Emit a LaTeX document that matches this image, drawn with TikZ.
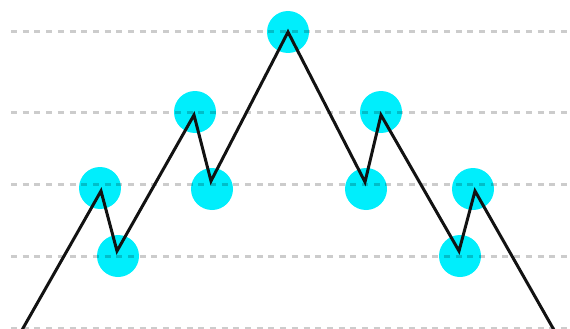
\documentclass[tikz,border=0pt]{standalone}
\begin{document}
\begin{tikzpicture}[x=1pt,y=-1pt,
  grid/.style={draw=black,draw opacity=0.2,line width=3pt,dash pattern=on 6pt off 5.7pt},
  dot/.style={circle,fill=cyanc,draw=none,minimum size=42pt,inner sep=0pt},
  path/.style={draw=black!93,line width=3pt,line join=miter}]
\definecolor{cyanc}{HTML}{00EEFC}
\useasboundingbox (0,0) rectangle (570,329);
\node[dot] (c1) at (100,188) {};
\node[dot] (c2) at (118,256) {};
\node[dot] (c3) at (195,112) {};
\node[dot] (c4) at (212,189) {};
\node[dot] (c5) at (288,32) {};
\node[dot] (c6) at (366,189) {};
\node[dot] (c7) at (381,112) {};
\node[dot] (c8) at (460,256) {};
\node[dot] (c9) at (473,189) {};
\foreach \y in {32,112,184,256,328}
  \draw[grid] (11,\y) -- (570,\y);
\coordinate (p0) at (22,330);
\coordinate (p1) at (101,191);
\coordinate (p2) at (117,251);
\coordinate (p3) at (194,115);
\coordinate (p4) at (211,181);
\coordinate (p5) at (288,32);
\coordinate (p6) at (365,182);
\coordinate (p7) at (381,115);
\coordinate (p8) at (459,251);
\coordinate (p9) at (475,191);
\coordinate (p10) at (554,330);
\draw[path] (p0) -- (p1) -- (p2) -- (p3) -- (p4) -- (p5) -- (p6) -- (p7) -- (p8) -- (p9) -- (p10);
\end{tikzpicture}
\end{document}
